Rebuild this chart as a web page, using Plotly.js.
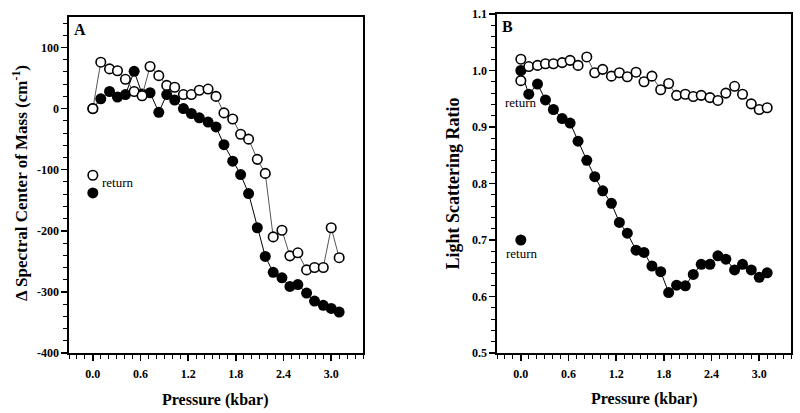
<!DOCTYPE html>
<html>
<head>
<meta charset="utf-8">
<script src="https://cdn.plot.ly/plotly-3.0.1.min.js"></script>
<style>html,body{margin:0;padding:0;background:#fff;}#chart{width:800px;height:413px;}</style>
</head>
<body>
<div id="chart"></div>
<script>
// Pressure (kbar) for each measurement
const pressure = [0.00, 0.10, 0.21, 0.31, 0.41, 0.52, 0.62, 0.72, 0.83, 0.93, 1.03, 1.14, 1.24, 1.34, 1.45, 1.55,
                  1.65, 1.76, 1.86, 1.96, 2.07, 2.17, 2.27, 2.38, 2.48, 2.58, 2.69, 2.79, 2.90, 3.00, 3.10];

// Panel A: delta spectral center of mass (cm^-1)
const specOpen = [0, 76, 65, 62, 48, 28, 21, 69, 54, 38, 35, 23, 23, 30, 32, 20,
                  -7, -17, -42, -50, -83, -106, -210, -199, -241, -236, -264, -260, -260, -195, -244];
const specClosed = [0, 16, 28, 19, 23, 61, 24, 26, -6, 23, 14, 0, -8, -15, -22, -30,
                    -59, -86, -108, -139, -195, -242, -268, -277, -291, -288, -302, -315, -322, -327, -333];
const specReturnOpen = [-109];
const specReturnClosed = [-138];

// Panel B: light scattering ratio
const scatOpen = [1.020, 1.007, 1.009, 1.012, 1.012, 1.014, 1.018, 1.009, 1.024, 0.996, 1.002, 0.990, 0.996, 0.989, 0.997, 0.980,
                  0.990, 0.966, 0.977, 0.956, 0.958, 0.954, 0.956, 0.952, 0.947, 0.960, 0.972, 0.958, 0.941, 0.931, 0.934];
const scatClosed = [1.000, 0.958, 0.976, 0.948, 0.931, 0.915, 0.907, 0.875, 0.841, 0.812, 0.787, 0.765, 0.731, 0.712, 0.682, 0.678,
                    0.654, 0.644, 0.607, 0.620, 0.619, 0.639, 0.657, 0.657, 0.672, 0.666, 0.647, 0.657, 0.647, 0.634, 0.642];
const scatReturnOpen = [0.982];
const scatReturnClosed = [0.700];
const returnPressure = [0.0];

// Tick labels
const xTickVals = [0.0, 0.6, 1.2, 1.8, 2.4, 3.0];
const xTickText = ['0.0', '0.6', '1.2', '1.8', '2.4', '3.0'];
const yTickValsA = [-400, -300, -200, -100, 0, 100];
const yTickTextA = ['-400', '-300', '-200', '-100', '0', '100'];
const yTickValsB = [0.5, 0.6, 0.7, 0.8, 0.9, 1.0, 1.1];
const yTickTextB = ['0.5', '0.6', '0.7', '0.8', '0.9', '1.0', '1.1'];

const SERIF = 'Liberation Serif, Times New Roman, serif';
const openMarker = {symbol: 'circle', size: 9.5, color: '#ffffff', line: {color: '#000000', width: 1.6}};
const closedMarker = {symbol: 'circle', size: 11, color: '#000000', line: {color: '#000000', width: 0}};

const traces = [
  {x: pressure, y: specClosed, xaxis: 'x', yaxis: 'y', mode: 'lines+markers', marker: closedMarker, line: {color: '#000', width: 1}},
  {x: pressure, y: specOpen, xaxis: 'x', yaxis: 'y', mode: 'lines+markers', marker: openMarker, line: {color: '#555', width: 1}},
  {x: returnPressure, y: specReturnClosed, xaxis: 'x', yaxis: 'y', mode: 'markers', marker: closedMarker},
  {x: returnPressure, y: specReturnOpen, xaxis: 'x', yaxis: 'y', mode: 'markers', marker: openMarker},
  {x: pressure, y: scatClosed, xaxis: 'x2', yaxis: 'y2', mode: 'lines+markers', marker: closedMarker, line: {color: '#000', width: 1}},
  {x: pressure, y: scatOpen, xaxis: 'x2', yaxis: 'y2', mode: 'lines+markers', marker: openMarker, line: {color: '#555', width: 1}},
  {x: returnPressure, y: scatReturnClosed, xaxis: 'x2', yaxis: 'y2', mode: 'markers', marker: closedMarker},
  {x: returnPressure, y: scatReturnOpen, xaxis: 'x2', yaxis: 'y2', mode: 'markers', marker: openMarker}
];

const tickFont = {family: SERIF, size: 12, color: '#000', weight: 'bold'};
function xAxis(domain, anchor) {
  return {
    domain: domain, anchor: anchor, range: [-0.3, 3.4],
    tickmode: 'array', tickvals: xTickVals, ticktext: xTickText,
    ticks: 'outside', ticklen: 6, tickwidth: 1.5, tickcolor: '#000', ticklabelstandoff: 3,
    minor: {tickmode: 'linear', tick0: 0, dtick: 0.1, ticks: 'outside', ticklen: 4, tickwidth: 1, tickcolor: '#000'},
    showline: true, linewidth: 1.6, linecolor: '#000', mirror: true,
    showgrid: false, zeroline: false, tickfont: tickFont, fixedrange: true
  };
}
function yAxis(domain, anchor, range, vals, text, minorStep) {
  return {
    domain: domain, anchor: anchor, range: range,
    tickmode: 'array', tickvals: vals, ticktext: text,
    ticks: 'outside', ticklen: 6, tickwidth: 1.5, tickcolor: '#000',
    minor: {tickmode: 'linear', tick0: range[0], dtick: minorStep, ticks: 'outside', ticklen: 4, tickwidth: 1, tickcolor: '#000'},
    showline: true, linewidth: 1.6, linecolor: '#000', mirror: true,
    showgrid: false, zeroline: false, tickfont: tickFont, fixedrange: true
  };
}

const layout = {
  width: 800, height: 413,
  margin: {l: 69, r: 9, t: 14, b: 60, pad: 0},
  paper_bgcolor: '#fff', plot_bgcolor: '#fff',
  showlegend: false,
  font: {family: SERIF, color: '#000'},
  xaxis: xAxis([0, 0.4072], 'y'),
  yaxis: yAxis([0, 0.9912], 'x', [-400, 150], yTickValsA, yTickTextA, 20),
  xaxis2: xAxis([0.5928, 1], 'y2'),
  yaxis2: yAxis([0, 1], 'x2', [0.5, 1.1], yTickValsB, yTickTextB, 0.02),
  annotations: [
    {xref: 'x domain', yref: 'y domain', x: 0, y: 1, xanchor: 'left', yanchor: 'top', xshift: 3, yshift: -2,
     text: '<b>A</b>', showarrow: false, font: {family: SERIF, size: 16, color: '#000'}},
    {xref: 'x2 domain', yref: 'y2 domain', x: 0, y: 1, xanchor: 'left', yanchor: 'top', xshift: 3, yshift: -2,
     text: '<b>B</b>', showarrow: false, font: {family: SERIF, size: 16, color: '#000'}},
    {xref: 'x domain', yref: 'y domain', x: 0.5, y: 0, yanchor: 'middle', yshift: -47,
     text: '<b>Pressure (kbar)</b>', showarrow: false, font: {family: SERIF, size: 16, color: '#000'}},
    {xref: 'x2 domain', yref: 'y2 domain', x: 0.5, y: 0, yanchor: 'middle', yshift: -46,
     text: '<b>Pressure (kbar)</b>', showarrow: false, font: {family: SERIF, size: 16, color: '#000'}},
    {xref: 'x domain', yref: 'y domain', x: 0, y: 0.5, xanchor: 'center', yanchor: 'middle', xshift: -49, yshift: 2, textangle: -90,
     text: '<b>\u0394 Spectral Center of Mass (cm<sup>-1</sup>)</b>', showarrow: false, font: {family: SERIF, size: 17, color: '#000'}},
    {xref: 'x2 domain', yref: 'y2 domain', x: 0, y: 0.5, xanchor: 'center', yanchor: 'middle', xshift: -45, yshift: 0, textangle: -90,
     text: '<b>Light Scattering Ratio</b>', showarrow: false, font: {family: SERIF, size: 18, color: '#000'}},
    {xref: 'x', yref: 'y', x: 0.09, y: -121, xanchor: 'left', yanchor: 'middle',
     text: 'return', showarrow: false, font: {family: SERIF, size: 13, color: '#000'}},
    {xref: 'x2', yref: 'y2', x: 0.0, y: 0.9425, xanchor: 'center', yanchor: 'middle',
     text: 'return', showarrow: false, font: {family: SERIF, size: 13, color: '#000'}},
    {xref: 'x2', yref: 'y2', x: 0.02, y: 0.676, xanchor: 'center', yanchor: 'middle',
     text: 'return', showarrow: false, font: {family: SERIF, size: 13, color: '#000'}}
  ]
};

Plotly.newPlot('chart', traces, layout, {staticPlot: true, displayModeBar: false});
</script>
</body>
</html>
